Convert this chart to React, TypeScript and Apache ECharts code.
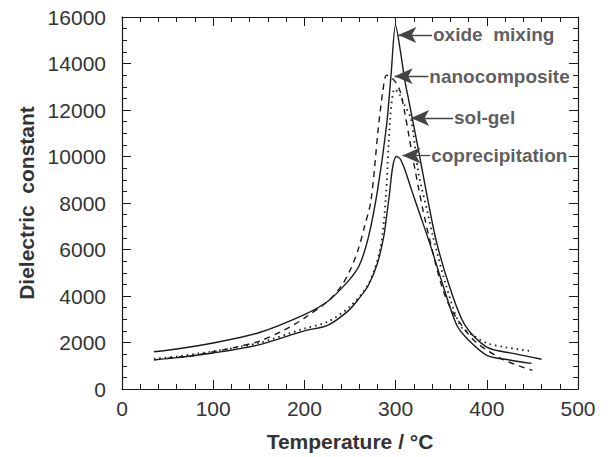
import React, { useEffect, useRef } from "react";
import * as echarts from "echarts";

// Temperatures (°C) and dielectric constants
const oxideT = [35, 60, 100, 150, 200, 225, 248, 260, 270, 280, 290, 295, 300, 305, 310, 315, 325, 335, 345, 360, 376, 400, 430, 460];
const oxideV = [1600, 1720, 1980, 2420, 3200, 3750, 4640, 5300, 6500, 8500, 11300, 13500, 15650, 14600, 13300, 12300, 10300, 8200, 6300, 4300, 2750, 1800, 1520, 1280];

const coprecT = [35, 60, 100, 150, 200, 226, 248, 260, 270, 280, 287, 290, 293, 297, 301, 305, 310, 318, 325, 338, 350, 367, 380, 400, 425, 449];
const coprecV = [1250, 1350, 1550, 1900, 2500, 2750, 3360, 3900, 4450, 5400, 6550, 7400, 8300, 9600, 10000, 9900, 9450, 8500, 7700, 6200, 4700, 2750, 2100, 1450, 1250, 1100];

const nanoT = [50, 75, 100, 125, 150, 175, 190, 200, 225, 240, 250, 259, 266, 273, 281, 286, 290, 295, 300, 305, 310, 315, 320, 330, 340, 350, 360, 376, 390, 420, 450];
const nanoV = [1330, 1420, 1600, 1800, 2050, 2480, 2800, 3050, 3750, 4400, 5100, 6000, 7000, 8100, 11200, 12800, 13500, 13400, 13200, 12800, 11900, 10800, 9700, 7700, 6000, 4500, 3500, 2550, 1950, 1230, 800];

const solT = [35, 60, 100, 150, 200, 226, 250, 270, 283, 289, 294, 299, 304, 310, 317, 325, 335, 341, 355, 371, 385, 401, 420, 450];
const solV = [1300, 1400, 1620, 1980, 2600, 2900, 3550, 4500, 6000, 8100, 11600, 12900, 12700, 12200, 11600, 9300, 7600, 6550, 4500, 2720, 2300, 1960, 1800, 1620];

// Annotations: label names, label anchor (T, V) and arrow tip (T, V)
const annoNames = ["oxide  mixing", "nanocomposite", "sol-gel", "coprecipitation"];
const annoLabelT = [341, 337, 364, 339];
const annoTipT = [303, 299, 317, 307.5];
const annoV = [15230, 13450, 11660, 10040];

const xTicks = { min: 0, max: 500, interval: 100 };
const yTicks = { min: 0, max: 16000, interval: 2000 };

const zip = (a: number[], b: number[]) => a.map((t, i) => [t, b[i]]);

export default function App() {
  const ref = useRef<HTMLDivElement>(null);
  useEffect(() => {
    if (!ref.current) return;
    const chart = echarts.init(ref.current, null, { renderer: "svg" });
    const lineColor = "#1a1a1a";
    const textColor = "#333";
    const font = "'Liberation Sans', Arial, Helvetica, sans-serif";
    const axisCommon = {
      axisLine: { show: true, onZero: false, lineStyle: { color: lineColor, width: 1.2 } },
      splitLine: { show: false },
    };
    const tick = { show: true, inside: true, length: 9, lineStyle: { color: lineColor } };
    const lineSeries = (name: string, data: number[][], type: any, width: number) => ({
      name,
      type: "line",
      data,
      showSymbol: false,
      symbol: "none",
      smooth: 0.3,
      lineStyle: { color: lineColor, width, type },
      z: 3,
    });
    const option: any = {
      animation: false,
      backgroundColor: "#fff",
      grid: { left: 122, right: 32, top: 17, bottom: 63 },
      xAxis: [
        {
          type: "value",
          ...xTicks,
          position: "bottom",
          ...axisCommon,
          axisTick: tick,
          minorTick: { show: true, splitNumber: 5, length: 5, lineStyle: { color: lineColor } },
          axisLabel: { color: textColor, fontSize: 21, fontFamily: font, margin: 9 },
          name: "Temperature / °C",
          nameLocation: "middle",
          nameGap: 42,
          nameTextStyle: { color: textColor, fontSize: 21, fontWeight: "bold", fontFamily: font },
        },
        {
          type: "value",
          ...xTicks,
          position: "top",
          ...axisCommon,
          axisTick: tick,
          minorTick: { show: true, splitNumber: 5, length: 5, lineStyle: { color: lineColor } },
          axisLabel: { show: false },
        },
      ],
      yAxis: [
        {
          type: "value",
          ...yTicks,
          position: "left",
          ...axisCommon,
          axisTick: tick,
          minorTick: { show: true, splitNumber: 4, length: 5, lineStyle: { color: lineColor } },
          axisLabel: {
            color: textColor,
            fontSize: 21,
            fontFamily: font,
            margin: 16,
            formatter: (v: number) => String(v),
          },
          name: "Dielectric  constant",
          nameLocation: "middle",
          nameGap: 76,
          nameTextStyle: { color: textColor, fontSize: 21, fontWeight: "bold", fontFamily: font },
        },
        {
          type: "value",
          ...yTicks,
          position: "right",
          ...axisCommon,
          axisTick: tick,
          minorTick: { show: true, splitNumber: 4, length: 5, lineStyle: { color: lineColor } },
          axisLabel: { show: false },
        },
      ],
      series: [
        lineSeries("oxide mixing", zip(oxideT, oxideV), "solid", 1.4),
        lineSeries("coprecipitation", zip(coprecT, coprecV), "solid", 1.4),
        lineSeries("nanocomposite", zip(nanoT, nanoV), [6, 5], 1.4),
        lineSeries("sol-gel", zip(solT, solV), [1.5, 4], 1.8),
        {
          name: "annotations",
          type: "scatter",
          symbolSize: 0,
          data: annoNames.map((n, i) => ({ name: n, value: [annoLabelT[i], annoV[i]] })),
          label: {
            show: true,
            position: "right",
            distance: 0,
            formatter: (p: any) => p.name,
            color: textColor,
            fontSize: 19,
            fontWeight: "bold",
            fontFamily: font,
          },
          markLine: {
            silent: true,
            symbol: ["none", "arrow"],
            symbolSize: [12, 18],
            label: { show: false },
            lineStyle: { color: "#444", width: 1.3, type: "solid" },
            data: annoNames.map((n, i) => [
              { coord: [annoLabelT[i] - 1, annoV[i]] },
              { coord: [annoTipT[i], annoV[i]] },
            ]),
          },
          z: 5,
        },
      ],
    };
    chart.setOption(option);
    return () => chart.dispose();
  }, []);
  return (
    <div
      ref={ref}
      style={{ position: "absolute", left: 0, top: 0, width: 610, height: 457 }}
    />
  );
}
